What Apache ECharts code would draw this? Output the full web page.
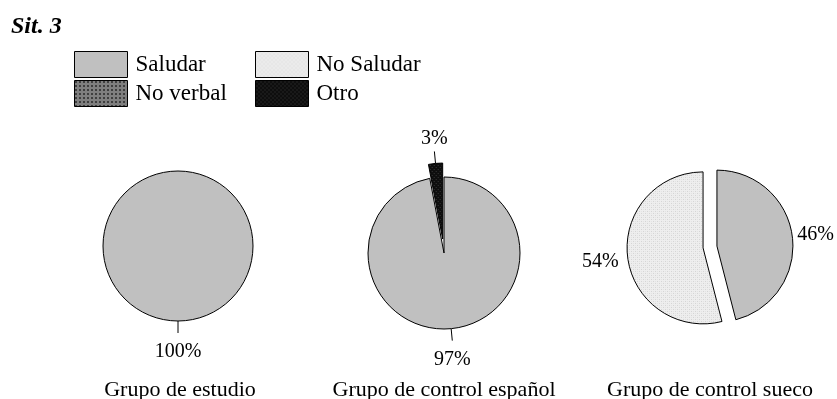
<!DOCTYPE html>
<html>
<head>
<meta charset="utf-8">
<script src="https://cdn.jsdelivr.net/npm/echarts@6/dist/echarts.min.js"></script>
<style>
  html, body { margin: 0; padding: 0; background: #fff; }
  #chart { width: 837px; height: 399px; }
</style>
</head>
<body>
<div id="chart"></div>
<script>
// Reply categories and the share (%) of each group that chose them
const sectionTitle = 'Sit. 3';
const categories = ['Saludar', 'No Saludar', 'No verbal', 'Otro'];
const groupNames = ['Grupo de estudio', 'Grupo de control español', 'Grupo de control sueco'];
const estudioValues = [100, 0, 0, 0];
const controlEspanolValues = [97, 0, 0, 3];
const controlSuecoValues = [46, 54, 0, 0];
// Slices pulled out of their pie
const pulledOutEspanol = ['Otro'];
const pulledOutSueco = ['Saludar', 'No Saludar'];

const FONT = '"Liberation Serif", "Times New Roman", Times, serif';

// Small repeating fills
function patternFill(size, bg, paint) {
  const c = document.createElement('canvas');
  c.width = size; c.height = size;
  const ctx = c.getContext('2d');
  ctx.fillStyle = bg;
  ctx.fillRect(0, 0, size, size);
  paint(ctx);
  return { image: c, repeat: 'repeat' };
}
const fills = {
  'Saludar': '#c0c0c0',
  'No Saludar': patternFill(4, '#efefef', ctx => {
    ctx.fillStyle = '#d2d2d2';
    ctx.fillRect(0, 0, 1, 1); ctx.fillRect(2, 2, 1, 1);
    ctx.fillStyle = '#e2e2e2';
    ctx.fillRect(2, 0, 1, 1); ctx.fillRect(0, 2, 1, 1);
  }),
  'No verbal': patternFill(4, '#ffffff', ctx => {
    ctx.fillStyle = '#000000';
    ctx.fillRect(0, 0, 1, 4); ctx.fillRect(2, 0, 1, 4);
    ctx.fillRect(1, 1, 1, 1);
  }),
  'Otro': patternFill(4, '#0e0e0e', ctx => {
    ctx.fillStyle = '#3a3a3a';
    ctx.fillRect(1, 1, 1, 1); ctx.fillRect(3, 3, 1, 1);
  })
};

function buildData(values, pulledOut, labelDistances) {
  return categories.map((name, i) => {
    const v = values[i];
    const item = {
      name: name,
      value: v,
      selected: pulledOut.indexOf(name) >= 0,
      itemStyle: { color: fills[name], borderColor: '#000', borderWidth: v > 0 ? 1 : 0 }
    };
    if (v === 0) {
      item.label = { show: false };
      item.labelLine = { show: false };
    } else if (labelDistances && labelDistances[i] != null) {
      item.label = { distanceToLabelLine: labelDistances[i] };
    }
    return item;
  });
}

// Put a label centred on the end of its leader line, above or below it
function centredOnLeader(p) {
  const pts = p.labelLinePoints;
  if (!pts || pts.length < 2) return {};
  const a = pts[0], b = pts[pts.length - 1];
  const below = b[1] > a[1];
  return { align: 'center', verticalAlign: below ? 'top' : 'bottom', dy: below ? 9 : -3 };
}

// Side labels: the left one sits a little lower than its slice edge
function sideLabels(p) {
  return p.align === 'right' ? { dy: 4 } : { dy: -2 };
}

const pieBase = {
  type: 'pie',
  startAngle: 90,
  clockwise: true,
  avoidLabelOverlap: false,
  selectedMode: 'multiple',
  emphasis: { disabled: true },
  select: { itemStyle: { borderColor: '#000', borderWidth: 1 } },
  label: {
    show: true,
    position: 'outside',
    color: '#000',
    fontFamily: FONT,
    fontSize: 20,
    distanceToLabelLine: 0,
    formatter: p => p.value + '%'
  },
  labelLine: {
    show: true,
    length: 12,
    length2: 0,
    lineStyle: { color: '#000', width: 1 }
  }
};

const captionTop = 379;
const captionStyle = { fontFamily: FONT, fontSize: 22, fontWeight: 'normal', color: '#000' };
const legendText = { fontFamily: FONT, fontSize: 23, color: '#000', padding: [0, 0, 0, 3] };

const option = {
  animation: false,
  backgroundColor: '#ffffff',
  title: [
    {
      text: sectionTitle, left: 11, top: 15, padding: 0,
      textStyle: { fontFamily: FONT, fontSize: 24, fontWeight: 'bold', fontStyle: 'italic', color: '#000' }
    },
    { text: groupNames[0], left: 180, top: captionTop, padding: 0, textAlign: 'center', textStyle: captionStyle },
    { text: groupNames[1], left: 444, top: captionTop, padding: 0, textAlign: 'center', textStyle: captionStyle },
    { text: groupNames[2], left: 710, top: captionTop, padding: 0, textAlign: 'center', textStyle: captionStyle }
  ],
  legend: [
    {
      data: [categories[0], categories[2]],
      orient: 'vertical', left: 74, top: 51, padding: 0,
      icon: 'rect', itemWidth: 53, itemHeight: 26, itemGap: 2,
      selectedMode: false,
      itemStyle: { borderColor: '#000', borderWidth: 1 },
      textStyle: legendText
    },
    {
      data: [categories[1], categories[3]],
      orient: 'vertical', left: 255, top: 51, padding: 0,
      icon: 'rect', itemWidth: 53, itemHeight: 26, itemGap: 2,
      selectedMode: false,
      itemStyle: { borderColor: '#000', borderWidth: 1 },
      textStyle: legendText
    }
  ],
  series: [
    Object.assign({}, pieBase, {
      name: groupNames[0],
      center: [178, 246], radius: 75,
      labelLayout: centredOnLeader,
      data: buildData(estudioValues, [])
    }),
    Object.assign({}, pieBase, {
      name: groupNames[1],
      center: [444, 253], radius: 76,
      selectedOffset: 14,
      labelLayout: centredOnLeader,
      data: buildData(controlEspanolValues, pulledOutEspanol)
    }),
    Object.assign({}, pieBase, {
      name: groupNames[2],
      center: [710, 247], radius: 76,
      selectedOffset: 7,
      label: Object.assign({}, pieBase.label, { distanceToLabelLine: 5 }),
      labelLine: { show: false, length: 0, length2: 0 },
      labelLayout: sideLabels,
      data: buildData(controlSuecoValues, pulledOutSueco, [5, 9, null, null])
    })
  ]
};

const chart = echarts.init(document.getElementById('chart'), null, { renderer: 'canvas' });
chart.setOption(option);
</script>
</body>
</html>
